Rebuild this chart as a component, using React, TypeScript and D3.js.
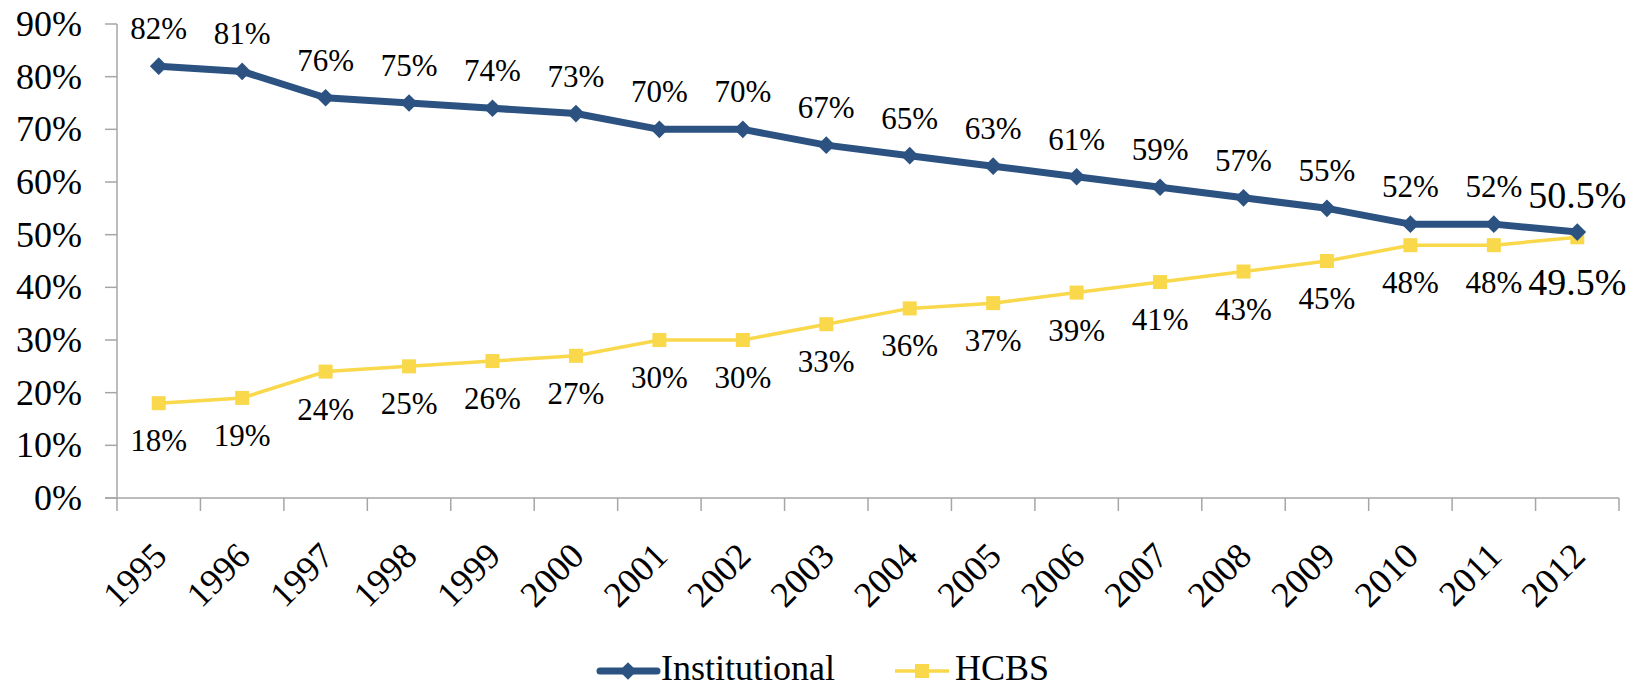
import * as d3 from "d3";
import { useEffect } from "react";

const years = ["1995", "1996", "1997", "1998", "1999", "2000", "2001", "2002", "2003", "2004", "2005", "2006", "2007", "2008", "2009", "2010", "2011", "2012"];
const institutional = [82, 81, 76, 75, 74, 73, 70, 70, 67, 65, 63, 61, 59, 57, 55, 52, 52, 50.5];
const hcbs = [18, 19, 24, 25, 26, 27, 30, 30, 33, 36, 37, 39, 41, 43, 45, 48, 48, 49.5];
const yTicks = [0, 10, 20, 30, 40, 50, 60, 70, 80, 90];

const W = 1642;
const H = 687;
const NAVY = "#2C5282";
const GOLD = "#F9D84B";
const AXIS = "#A6A6A6";
const FONT = "'Liberation Serif', 'DejaVu Serif', serif";

export default function App() {
  useEffect(() => {
    document.body.style.margin = "0";
  }, []);

  const x = d3.scaleBand().domain(years).range([117, 1619]);
  const cx = (d: string) => x(d)! + x.bandwidth() / 2;
  const y = d3.scaleLinear().domain([0, 90]).range([498, 24]);

  const line = d3.line<number>()
    .x((_, i) => cx(years[i]))
    .y(d => y(d));

  const fmt = (v: number) => `${v}%`;
  const last = years.length - 1;
  const diamond = d3.symbol(d3.symbolDiamond2, 200)()!;

  return (
    <svg width={W} height={H} style={{ display: "block", fontFamily: FONT }}>
      {/* y axis */}
      <line x1={117} x2={117} y1={y(90)} y2={511} stroke={AXIS} strokeWidth={1.5} />
      {yTicks.map(t => (
        <g key={t}>
          <line x1={105} x2={117} y1={y(t)} y2={y(t)} stroke={AXIS} strokeWidth={1.5} />
          <text x={82} y={y(t) + 12} textAnchor="end" fontSize={36} fill="#000">{t}%</text>
        </g>
      ))}
      {/* x axis */}
      <line x1={105} x2={1619} y1={y(0)} y2={y(0)} stroke={AXIS} strokeWidth={1.5} />
      {years.map(yr => (
        <line key={yr} x1={x(yr)! + x.bandwidth()} x2={x(yr)! + x.bandwidth()} y1={y(0)} y2={511} stroke={AXIS} strokeWidth={1.5} />
      ))}
      {years.map(yr => (
        <text key={yr} transform={`translate(${cx(yr) + 10},558) rotate(-45)`} textAnchor="end" fontSize={36} fill="#000">{yr}</text>
      ))}

      {/* series */}
      <path d={line(hcbs)!} fill="none" stroke={GOLD} strokeWidth={3.5} />
      {hcbs.map((v, i) => (
        <rect key={i} x={cx(years[i]) - 7} y={y(v) - 7} width={14} height={14} fill={GOLD} />
      ))}
      <path d={line(institutional)!} fill="none" stroke={NAVY} strokeWidth={7} strokeLinejoin="round" />
      {institutional.map((v, i) => (
        <path key={i} d={diamond} transform={`translate(${cx(years[i])},${y(v)})`} fill={NAVY} />
      ))}

      {/* data labels */}
      {institutional.map((v, i) => (
        <text key={i} x={cx(years[i])} y={y(v) - (i === last ? 24 : 27)} textAnchor="middle" fontSize={i === last ? 38 : 31} fill="#000">{fmt(v)}</text>
      ))}
      {hcbs.map((v, i) => (
        <text key={i} x={cx(years[i])} y={y(v) + (i === last ? 58 : 48)} textAnchor="middle" fontSize={i === last ? 38 : 31} fill="#000">{fmt(v)}</text>
      ))}

      {/* legend */}
      <line x1={600} x2={657} y1={671} y2={671} stroke={NAVY} strokeWidth={7} strokeLinecap="round" />
      <path d={diamond} transform="translate(628,671)" fill={NAVY} />
      <text x={661} y={680} fontSize={36} fill="#000">Institutional</text>
      <line x1={895} x2={949} y1={671} y2={671} stroke={GOLD} strokeWidth={3.5} />
      <rect x={915} y={664} width={14} height={14} fill={GOLD} />
      <text x={955} y={680} fontSize={36} fill="#000">HCBS</text>
    </svg>
  );
}
